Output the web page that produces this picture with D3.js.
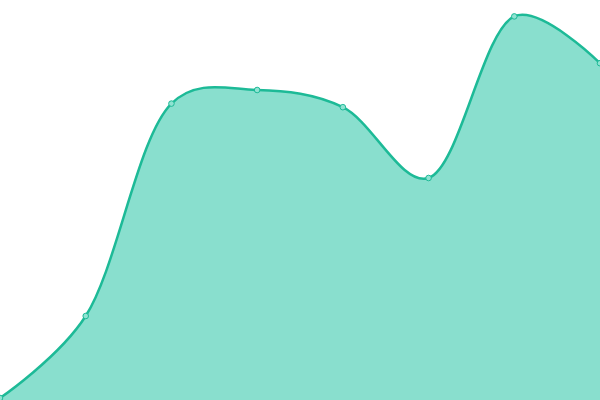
<!DOCTYPE html>
<html><head><meta charset="utf-8">
<script src="https://cdn.jsdelivr.net/npm/d3@7"></script>
<style>html,body{margin:0;padding:0;background:#fff;overflow:hidden}</style>
</head><body>
<svg id="c" width="600" height="400"></svg>
<script>
const categories = [0, 1, 2, 3, 4, 5, 6, 7];
const values = [0.5, 21, 74.1, 77.5, 73.2, 55.5, 95.9, 84.2];

const W = 600, H = 400;
const svg = d3.select("#c");
const x = d3.scaleLinear().domain([0, categories.length - 1]).range([0, W]);
const y = d3.scaleLinear().domain([0, 100]).range([H, 0]);
const data = categories.map((c, i) => ({c, v: values[i]}));
const curve = d3.curveCatmullRom.alpha(0.3);

svg.append("path").datum(data)
  .attr("d", d3.area().x(d => x(d.c)).y0(H).y1(d => y(d.v)).curve(curve))
  .attr("fill", "#89dfce");
svg.append("path").datum(data)
  .attr("d", d3.line().x(d => x(d.c)).y(d => y(d.v)).curve(curve))
  .attr("fill", "none").attr("stroke", "#1dba97").attr("stroke-width", 2.5);
svg.selectAll("circle").data(data).join("circle")
  .attr("cx", d => x(d.c)).attr("cy", d => y(d.v)).attr("r", 2.8)
  .attr("fill", "#8fe3d2").attr("stroke", "#1dba97").attr("stroke-width", 1);
</script>
</body></html>
